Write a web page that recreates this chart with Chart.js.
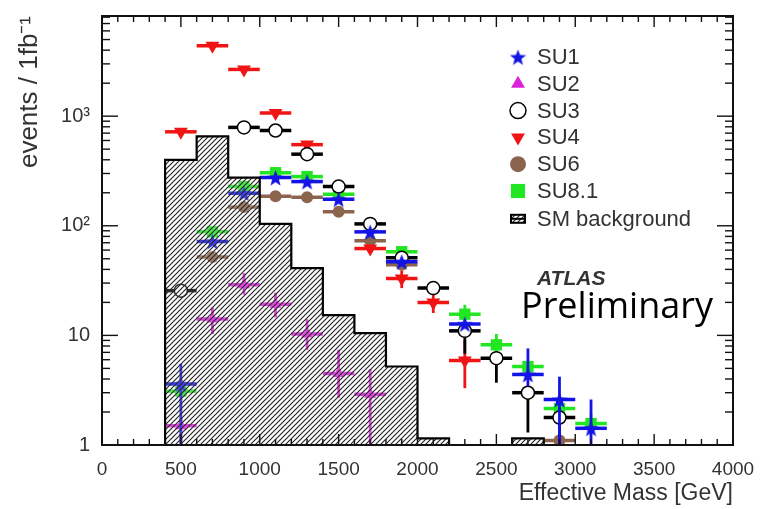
<!DOCTYPE html>
<html><head><meta charset="utf-8">
<script src="https://cdn.jsdelivr.net/npm/chart.js@4/dist/chart.umd.min.js"></script>
<style>html,body{margin:0;padding:0;background:#fff;}canvas{display:block;}</style>
</head><body>
<canvas id="c" width="773" height="509"></canvas>
<script>
// ---------- data ----------
const massBins = [500,700,900,1100,1300,1500,1700,1900,2100,2300,2500,2700,2900,3100];
const binHalfWidth = 100;

const su1Values  = [3.6, 72, 198, 275, 253, 175, 88, 47, null, 12.7, null, 4.4, 2.6, 1.42];
const su2Values  = [1.5, 14.1, 29, 19.2, 10.3, 4.5, 2.9, null, null, null, null, null, null, null];
const su3Values  = [25.6, null, 790, 740, 450, 228, 104, 51, 27, 11, 6.2, 3.0, 1.78, null];
const su4Values  = [720, 4400, 2670, 1070, 550, null, 62, 33, 20, 5.9, null, null, null, null];
const su6Values  = [null, 52, 148, 186, 182, 134, 73, 44, null, null, null, null, 1.1, null];
const su81Values = [3.1, 88, 228, 305, 281, 194, null, 58, null, 15.6, 8.2, 5.2, 2.15, 1.57];

// vertical error bars (low / high), null = hidden by marker
const su1ErrLo  = [1, null, null, null, null, null, null, null, null, null, null, 3.45, 1, 1];
const su1ErrHi  = [5.5, null, null, null, null, null, null, null, null, null, null, 7.6, 4.2, 2.6];
const su2ErrLo  = [1, 10.3, 23.5, 14.6, 7.4, 2.7, 1, null, null, null, null, null, null, null];
const su2ErrHi  = [1.75, 18, 37, 24.5, 14, 7.4, 4.9, null, null, null, null, null, null, null];
const su3ErrLo  = [null, null, null, null, null, null, null, null, null, 6.8, 3.7, 1.3, 1, null];
const su3ErrHi  = [null, null, null, null, null, null, null, null, null, 13, 7, 3.4, 2.2, null];
const su4ErrLo  = [null, null, null, null, null, null, null, 27, 16, 3.3, null, null, null, null];
const su4ErrHi  = [null, null, null, null, null, null, null, 39, 24, 9.1, null, null, null, null];
const su6ErrLo  = [null, null, null, null, null, null, null, null, null, null, null, null, 1, null];
const su6ErrHi  = [null, null, null, null, null, null, null, null, null, null, null, null, 1.3, null];
const su81ErrLo = [null, null, null, null, null, null, null, null, null, 12.5, 6.5, null, 1.8, 1.3];
const su81ErrHi = [null, null, null, null, null, null, null, null, null, 19, 10.3, null, 2.6, 1.9];

// SM background histogram (bin edges / contents)
const bkgEdges  = [400, 400, 600, 800, 1000, 1200, 1400, 1600, 1800, 2000, 2200, 2600, 2800];
const bkgValues = [1, 400, 655, 275, 104, 41, 15.3, 10.5, 5.2, 1.15, 1, 1.15, 1];

const xTickStep = 500;
const yTickValues = [1, 10, 100, 1000];
const yTickLabels = ['1', '10', '10\u00B2', '10\u00B3'];

// ---------- styling helpers ----------
const canvas = document.getElementById('c');
const mainCtx = canvas.getContext('2d');

function hatchPattern(){
  const p = 5, c = document.createElement('canvas');
  c.width = c.height = p;
  const g = c.getContext('2d');
  g.fillStyle = 'rgba(255,255,255,0.18)';
  g.fillRect(0, 0, p, p);
  g.strokeStyle = '#262626'; g.lineWidth = 1.2;
  g.beginPath();
  g.moveTo(0, p); g.lineTo(p, 0);
  g.moveTo(-1, 1); g.lineTo(1, -1);
  g.moveTo(p-1, p+1); g.lineTo(p+1, p-1);
  g.stroke();
  return mainCtx.createPattern(c, 'repeat');
}
function starImage(color, size){
  const c = document.createElement('canvas');
  c.width = c.height = size;
  const g = c.getContext('2d');
  g.fillStyle = color; g.beginPath();
  for (let i = 0; i < 10; i++){
    const r = i % 2 ? size*0.21 : size*0.5;
    const a = -Math.PI/2 + i*Math.PI/5;
    g.lineTo(size/2 + r*Math.cos(a), size/2 + 1 + r*Math.sin(a));
  }
  g.closePath(); g.fill();
  return c;
}
const hatch = hatchPattern();
const blueStar = starImage('#1414e6', 17);

const pts = vals => massBins.map((m, i) => ({x: m, y: vals[i]}));

function series(label, vals, lo, hi, color, barColor, style, extra){
  return Object.assign({
    label, data: pts(vals), errLo: lo, errHi: hi, barColor,
    showLine: false, pointStyle: style, pointRadius: 7, pointHoverRadius: 7,
    backgroundColor: color, borderColor: color, pointBorderWidth: 0
  }, extra || {});
}

const datasets = [
  { label: 'SM background', data: bkgEdges.map((e, i) => ({x: e, y: bkgValues[i]})),
    showLine: true, stepped: 'before', fill: 'start', backgroundColor: hatch,
    borderColor: '#000', borderWidth: 2.2, pointRadius: 0, order: 0 },
  series('SU1', su1Values, su1ErrLo, su1ErrHi, '#1414e6', '#1414e6', blueStar, {order: 1}),
  series('SU2', su2Values, su2ErrLo, su2ErrHi, '#dd22dd', '#dd22dd', 'triangle', {order: 2, pointRadius: 7}),
  series('SU3', su3Values, su3ErrLo, su3ErrHi, '#ffffff', '#000000', 'circle',
         {order: 3, borderColor: '#000', pointBorderWidth: 1.5, pointRadius: 6.5}),
  series('SU4', su4Values, su4ErrLo, su4ErrHi, '#f01414', '#f01414', 'triangle', {order: 4, pointRotation: 180, pointRadius: 8}),
  series('SU6', su6Values, su6ErrLo, su6ErrHi, '#8c644e', '#8c644e', 'circle', {order: 5, pointRadius: 6}),
  series('SU8.1', su81Values, su81ErrLo, su81ErrHi, '#22e622', '#22e622', 'rect', {order: 6, pointRadius: 8})
];

// ---------- plugins ----------
function seg(ctx, x1, y1, x2, y2){ ctx.beginPath(); ctx.moveTo(x1, y1); ctx.lineTo(x2, y2); ctx.stroke(); }

const errorBars = {
  id: 'errorBars',
  beforeDatasetDraw(chart, args){
    const ds = chart.data.datasets[args.index];
    if (!ds.errLo) return;
    const {ctx, chartArea: a, scales: {x, y}} = chart;
    ctx.save();
    ctx.beginPath(); ctx.rect(a.left, a.top, a.width, a.height); ctx.clip();
    ctx.strokeStyle = ds.barColor; ctx.lineCap = 'butt';
    ds.data.forEach((p, i) => {
      if (p.y == null) return;
      const px = x.getPixelForValue(p.x), py = y.getPixelForValue(p.y);
      ctx.lineWidth = 3.5;
      seg(ctx, x.getPixelForValue(p.x - binHalfWidth), py, x.getPixelForValue(p.x + binHalfWidth), py);
      if (ds.errLo[i] != null){
        ctx.lineWidth = 2.8;
        seg(ctx, px, y.getPixelForValue(ds.errLo[i]), px, y.getPixelForValue(ds.errHi[i]));
      }
    });
    ctx.restore();
  }
};

const frameTicks = {
  id: 'frameTicks',
  afterDatasetsDraw(chart){
    const {ctx, chartArea: a, scales: {x, y}} = chart;
    ctx.save(); ctx.strokeStyle = '#111'; ctx.lineWidth = 1.4;
    for (let v = x.min; v <= x.max; v += xTickStep/5){
      const px = x.getPixelForValue(v);
      const L = (v % xTickStep === 0) ? 11 : 6;
      seg(ctx, px, a.bottom, px, a.bottom - L);
      seg(ctx, px, a.top, px, a.top + L);
    }
    for (let d = 1; d <= y.max; d *= 10){
      for (let m = 1; m <= 9; m++){
        const v = m*d; if (v > y.max) break;
        const py = y.getPixelForValue(v);
        const L = m === 1 ? 16 : 8;
        seg(ctx, a.left, py, a.left + L, py);
        seg(ctx, a.right, py, a.right - L, py);
      }
    }
    ctx.lineWidth = 2;
    ctx.strokeRect(a.left, a.top, a.width, a.height);
    ctx.restore();
  }
};

const legendAndLabels = {
  id: 'legendAndLabels',
  afterDraw(chart){
    const ctx = chart.ctx;
    const order = ['SU1', 'SU2', 'SU3', 'SU4', 'SU6', 'SU8.1', 'SM background'];
    const mx = 518, tx = 537, y0 = 57, dy = 26.8;
    ctx.save();
    ctx.font = '22px "Liberation Sans", Arial, sans-serif';
    ctx.textBaseline = 'middle'; ctx.textAlign = 'left';
    order.forEach((name, i) => {
      const ds = chart.data.datasets.find(d => d.label === name);
      const yy = y0 + i*dy + (i === 6 ? 1 : 0);
      if (name === 'SM background'){
        ctx.fillStyle = hatch; ctx.fillRect(mx - 7, yy - 4, 14, 8);
        ctx.strokeStyle = '#000'; ctx.lineWidth = 2;
        ctx.strokeRect(mx - 7, yy - 4, 14, 8);
        seg(ctx, mx - 8, yy, mx + 8, yy);
      } else {
        ctx.fillStyle = ds.backgroundColor; ctx.strokeStyle = ds.borderColor;
        ctx.lineWidth = ds.pointBorderWidth;
        const r = name === 'SU8.1' ? 10 : 8;
        Chart.helpers.drawPoint(ctx, {pointStyle: ds.pointStyle, rotation: ds.pointRotation || 0,
          radius: r, borderWidth: ds.pointBorderWidth}, mx, yy);
      }
      ctx.fillStyle = '#333';
      ctx.fillText(name, tx, yy + 1);
    });
    ctx.font = 'italic bold 21px "Liberation Sans", Arial, sans-serif';
    ctx.fillStyle = '#333';
    ctx.fillText('ATLAS', 537, 279);
    ctx.font = '36px "Open Sans", Lato, sans-serif';
    ctx.fillStyle = '#000';
    ctx.textBaseline = 'alphabetic';
    ctx.fillText('Preliminary', 521, 318);
    ctx.restore();
  }
};

// ---------- chart ----------
Chart.defaults.font.family = '"Liberation Sans", Arial, sans-serif';
Chart.defaults.color = '#333';

new Chart(canvas, {
  type: 'scatter',
  data: { datasets },
  options: {
    responsive: false, animation: false, devicePixelRatio: 1,
    layout: { padding: { top: 8, right: 40, left: 0, bottom: 0 } },
    plugins: { legend: { display: false }, tooltip: { enabled: false } },
    scales: {
      x: {
        type: 'linear', min: 0, max: 4000,
        grid: { display: false }, border: { display: false },
        ticks: { stepSize: xTickStep, padding: 5, font: { size: 19 }, color: '#333',
                 callback: v => String(v), maxRotation: 0 },
        title: { display: true, text: 'Effective Mass [GeV]', align: 'end',
                 font: { size: 23 }, color: '#333', padding: { top: 0, bottom: 2 } },
        afterFit: s => { s.height = 64; }
      },
      y: {
        type: 'logarithmic', min: 1, max: 8200,
        grid: { display: false }, border: { display: false },
        afterBuildTicks: s => { s.ticks = yTickValues.map(v => ({ value: v })); },
        ticks: { padding: 4, font: { size: 20 }, color: '#333',
                 callback: v => yTickLabels[yTickValues.indexOf(v)] },
        title: { display: true, text: 'events / 1fb\u207B\u00B9', align: 'end',
                 font: { size: 26 }, color: '#333', padding: { top: 14, bottom: 0 } },
        afterFit: s => { s.width = 102; }
      }
    }
  },
  plugins: [errorBars, frameTicks, legendAndLabels]
});
</script>
</body></html>
